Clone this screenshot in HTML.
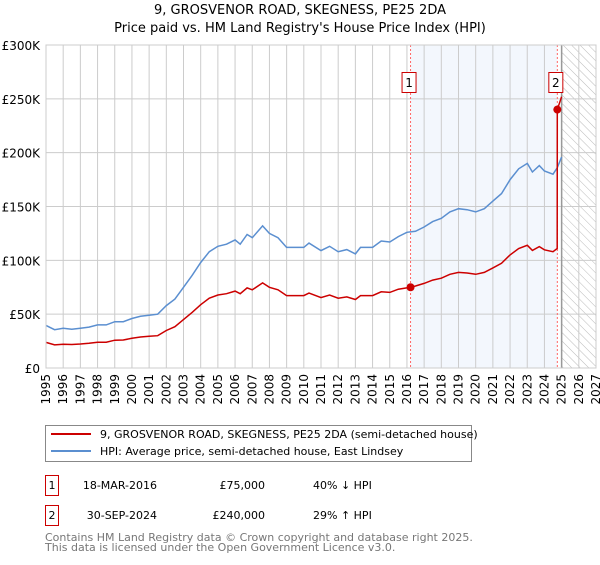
<!DOCTYPE html>
<html><head><meta charset="utf-8"><style>
body{margin:0;background:#fff;font-family:"Liberation Sans","DejaVu Sans",sans-serif}
svg text{font-family:"DejaVu Sans","Liberation Sans",sans-serif}
</style></head><body>
<svg id="c" width="600" height="560" viewBox="0 0 600 560" xmlns="http://www.w3.org/2000/svg">
<defs><pattern id="hatch" width="6" height="6" patternUnits="userSpaceOnUse" patternTransform="rotate(-45)"><line x1="0" y1="0" x2="0" y2="6" stroke="#bbb" stroke-width="1"/></pattern></defs>
<text x="300" y="14" text-anchor="middle" font-size="13">9, GROSVENOR ROAD, SKEGNESS, PE25 2DA</text>
<text x="300" y="32" text-anchor="middle" font-size="13">Price paid vs. HM Land Registry's House Price Index (HPI)</text>
<g id="plot"></g>
<g>
<rect x="45.5" y="425.5" width="426" height="36" fill="#fff" stroke="#888"/>
<line x1="51" y1="434" x2="91" y2="434" stroke="#cc0000" stroke-width="2"/>
<text x="100" y="438" font-size="11">9, GROSVENOR ROAD, SKEGNESS, PE25 2DA (semi-detached house)</text>
<line x1="51" y1="451" x2="91" y2="451" stroke="#5b8fd0" stroke-width="2"/>
<text x="100" y="455" font-size="11">HPI: Average price, semi-detached house, East Lindsey</text>
</g>
<g font-size="11">
<rect x="45.5" y="475.5" width="13" height="20" fill="#fff" stroke="#cc0000"/><text x="52" y="489" text-anchor="middle">1</text>
<text x="157" y="489" text-anchor="end">18-MAR-2016</text><text x="265" y="489" text-anchor="end">£75,000</text><text x="313" y="489">40% ↓ HPI</text>
<rect x="45.5" y="505.5" width="13" height="20" fill="#fff" stroke="#cc0000"/><text x="52" y="519" text-anchor="middle">2</text>
<text x="157" y="519" text-anchor="end">30-SEP-2024</text><text x="265" y="519" text-anchor="end">£240,000</text><text x="313" y="519">29% ↑ HPI</text>
</g>
<text x="45" y="541" font-size="11" fill="#777">Contains HM Land Registry data © Crown copyright and database right 2025.</text>
<text x="45" y="551" font-size="11" fill="#777">This data is licensed under the Open Government Licence v3.0.</text>
</svg>
<script>
const hpiYears=[1995,1995.5,1996,1996.5,1997,1997.5,1998,1998.5,1999,1999.5,2000,2000.5,2001,2001.5,2002,2002.5,2003,2003.5,2004,2004.5,2005,2005.5,2006,2006.3,2006.7,2007,2007.6,2008,2008.5,2009,2009.5,2010,2010.3,2011,2011.5,2012,2012.5,2013,2013.3,2014,2014.5,2015,2015.5,2016,2016.5,2017,2017.5,2018,2018.5,2019,2019.5,2020,2020.5,2021,2021.5,2022,2022.5,2023,2023.3,2023.7,2024,2024.5,2024.75,2025];
const hpiValues=[39.6,35.6,37,36,37,38,40,40,43,43,46,48,49,50,58,64,75,86,98,108,113,115,119,115,124,121,132,125,121,112,112,112,116,109,113,108,110,106,112,112,118,117,122,126,127,131,136,139,145,148,147,145,148,155,162,175,185,190,182,188,183,180,186,196];
const redYears=[1995,1995.5,1996,1996.5,1997,1997.5,1998,1998.5,1999,1999.5,2000,2000.5,2001,2001.5,2002,2002.5,2003,2003.5,2004,2004.5,2005,2005.5,2006,2006.3,2006.7,2007,2007.6,2008,2008.5,2009,2009.5,2010,2010.3,2011,2011.5,2012,2012.5,2013,2013.3,2014,2014.5,2015,2015.5,2016.21,2016.5,2017,2017.5,2018,2018.5,2019,2019.5,2020,2020.5,2021,2021.5,2022,2022.5,2023,2023.3,2023.7,2024,2024.5,2024.74,2024.75,2025];
const redValues=[23.8,21.5,22,21.8,22.3,23,24,24,25.8,26,27.6,28.8,29.4,30,34.8,38.4,45,51.6,58.8,64.8,67.8,69,71.4,69,74.4,72.6,79,75,72.6,67.2,67.2,67.2,69.6,65.4,67.8,64.8,66,63.6,67.2,67.2,70.8,70.2,73.2,75,76.2,78.6,81.6,83.4,87,88.8,88.2,87,88.8,93,97.2,105,111,114,109.2,112.8,109.8,108,111,240,252];
const sales=[{n:'1',year:2016.21,value:75},{n:'2',year:2024.75,value:240}];
const yTicks=[0,50,100,150,200,250,300];
const yLabels=['£0','£50K','£100K','£150K','£200K','£250K','£300K'];
const xTicks=[1995,1996,1997,1998,1999,2000,2001,2002,2003,2004,2005,2006,2007,2008,2009,2010,2011,2012,2013,2014,2015,2016,2017,2018,2019,2020,2021,2022,2023,2024,2025,2026,2027];
const X0=46,X1=596,Y0=368,Y1=45;
const x=v=>X0+(v-1995)/(2027-1995)*(X1-X0);
const y=v=>Y0-v/300*(Y0-Y1);
const NS='http://www.w3.org/2000/svg',g=document.getElementById('plot');
function mk(t,a,p){const e=document.createElementNS(NS,t);for(const k in a)e.setAttribute(k,a[k]);(p||g).appendChild(e);return e;}
let r=mk('rect',{x:x(2016.21),y:Y1,width:x(2024.75)-x(2016.21),height:Y0-Y1,fill:'#eef3fc',opacity:0.7});


r=mk('rect',{x:x(2025),y:Y1,width:X1-x(2025),height:Y0-Y1,fill:'url(#hatch)'});


xTicks.forEach(t=>{const l=mk('line',{x1:x(t),x2:x(t),y1:Y1,y2:Y0,stroke:'#ccc'});


const tx=mk('text',{x:0,y:0,'font-size':12,'text-anchor':'end',transform:`translate(${x(t)+4},${Y0+6}) rotate(-90)`});tx.textContent=t;

});
yTicks.forEach((t,i)=>{const l=mk('line',{x1:X0,x2:X1,y1:y(t),y2:y(t),stroke:'#ccc'});


const tx=mk('text',{x:X0-6,y:y(t)+5,'font-size':12,'text-anchor':'end'});tx.textContent=yLabels[i];

});
let l=mk('line',{x1:x(2025),x2:x(2025),y1:Y1,y2:Y0,stroke:'#999','stroke-width':1.5});


sales.forEach(s=>{const d=mk('line',{x1:x(s.year),x2:x(s.year),y1:Y1,y2:Y0,stroke:'#ff6666','stroke-dasharray':'2,2'});

});
const pts=(xs,vs)=>xs.map((t,i)=>x(t).toFixed(1)+','+y(vs[i]).toFixed(1)).join(' ');
let p=mk('polyline',{points:pts(hpiYears,hpiValues),fill:'none',stroke:'#5b8fd0','stroke-width':1.5});


p=mk('polyline',{points:pts(redYears,redValues),fill:'none',stroke:'#cc0000','stroke-width':1.5});


sales.forEach(s=>{const c=mk('circle',{cx:x(s.year),cy:y(s.value),r:4,fill:'#cc0000'});


const b=mk('rect',{x:x(s.year)-8.5,y:72.5,width:14,height:20,fill:'#fff',stroke:'#cc0000'});


const t=mk('text',{x:x(s.year)-1.5,y:87,'font-size':12,'text-anchor':'middle'});t.textContent=s.n;

});
mk('rect',{x:X0,y:Y1,width:X1-X0,height:Y0-Y1,fill:'none',stroke:'#ccc'});
</script>
</body></html>
